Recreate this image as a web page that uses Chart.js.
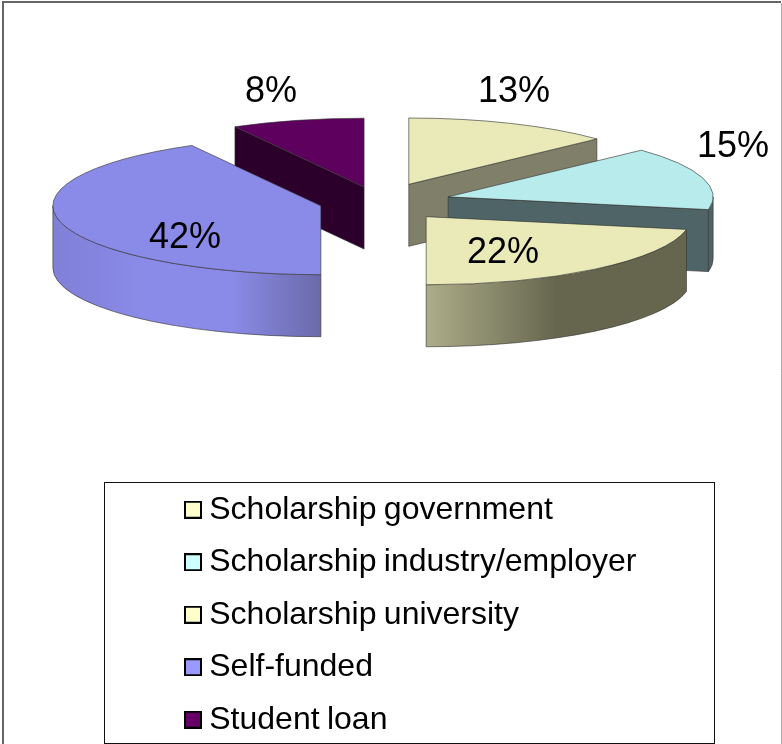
<!DOCTYPE html>
<html>
<head>
<meta charset="utf-8">
<title>Funding</title>
<script src="https://cdn.jsdelivr.net/npm/chart.js@4"></script>
<style>
  html, body { margin: 0; padding: 0; background: #fff; }
  canvas { display: block; filter: blur(0.4px); }
</style>
</head>
<body>
<canvas id="pie" width="782" height="744"></canvas>
<script>
const categories = ['Scholarship government', 'Scholarship industry/employer', 'Scholarship university', 'Self-funded', 'Student loan'];
const shares = [13, 15, 22, 42, 8];

// top faces and legend swatches have different tints in the original
const topColors = ['#EAEAB9', '#B8EBEB', '#EAEAB9', '#8A8AE8', '#5E005E'];
const swatchColors = ['#FFFFCC', '#CCFFFF', '#FFFFCC', '#9999FF', '#660066'];
const cutColors = ['#80806A', '#4E6466', '#66664F', '#6A6AAA', '#2B002B'];
const rimColors = [
    ['#80806A', '#80806A'],
    ['#4E6466', '#4E6466'],
    ['#ADAD8A', '#66664F', '#66664F'],
    ['#8080D8', '#8A8AE8', '#8A8AE8', '#6A6AAA'],
    ['#2B002B', '#2B002B']
];

const explode = [75, 72, 74, 60, 60];
const sliceRadius = [258, 265, 265, 268, 268];
const labelPos = [[514, 102], [733, 157], [503, 263], [185, 248], [271, 102]];

const squash = 0.257;
const depth = 62;

function swatch(color) {
    const c = document.createElement('canvas');
    c.width = 18;
    c.height = 18;
    const g = c.getContext('2d');
    g.fillStyle = '#000';
    g.fillRect(0, 0, 18, 18);
    g.fillStyle = color;
    g.fillRect(2, 2, 14, 14);
    return c;
}

function drawWall(ctx, arc, i) {
    const r = arc.outerRadius;
    const d = depth / squash;
    ctx.lineWidth = 1;
    ctx.strokeStyle = '#333';

    // straight cut faces that turn towards the viewer
    [[arc.endAngle, Math.cos(arc.endAngle) > 0.01], [arc.startAngle, Math.cos(arc.startAngle) < -0.01]].forEach(([a, visible]) => {
        if (!visible) return;
        ctx.beginPath();
        ctx.moveTo(arc.x, arc.y);
        ctx.lineTo(arc.x + r * Math.cos(a), arc.y + r * Math.sin(a));
        ctx.lineTo(arc.x + r * Math.cos(a), arc.y + r * Math.sin(a) + d);
        ctx.lineTo(arc.x, arc.y + d);
        ctx.closePath();
        ctx.fillStyle = cutColors[i];
        ctx.fill();
        ctx.stroke();
    });

    // outer rim, only the front half of the circle shows
    const from = Math.max(arc.startAngle, 0);
    const to = Math.min(arc.endAngle, Math.PI);
    if (to <= from) return;
    const xs = [];
    for (let a = from; a <= to; a += 0.02) xs.push(arc.x + r * Math.cos(a));
    xs.push(arc.x + r * Math.cos(to));
    const grad = ctx.createLinearGradient(Math.min(...xs), 0, Math.max(...xs), 0);
    rimColors[i].forEach((c, k, list) => grad.addColorStop(k / (list.length - 1), c));
    ctx.beginPath();
    ctx.arc(arc.x, arc.y, r, from, to);
    ctx.arc(arc.x, arc.y + d, r, to, from, true);
    ctx.closePath();
    ctx.fillStyle = grad;
    ctx.fill();
    ctx.stroke();
}

const pie3d = {
    id: 'pie3d',
    beforeDraw(chart) {
        chart.ctx.wordSpacing = '-1.5px';
    },
    afterDatasetsUpdate(chart) {
        // pull the slices apart here, the offset option would also grow the radius
        chart.getDatasetMeta(0).data.forEach((arc, i) => {
            const mid = (arc.startAngle + arc.endAngle) / 2;
            arc.x += Math.cos(mid) * explode[i];
            arc.y += Math.sin(mid) * explode[i];
            arc.outerRadius = sliceRadius[i];
        });
    },
    afterLayout(chart) {
        const legend = chart.legend;
        const p = legend.options.labels.padding;
        legend.left = 192.75 - p;
        legend.top = 490 - p;
        legend.right = 715;
        legend.bottom = 760;
    },
    beforeDatasetsDraw(chart) {
        const ctx = chart.ctx;
        const area = chart.chartArea;
        const cy = (area.top + area.bottom) / 2;
        ctx.save();
        ctx.translate(0, cy);
        ctx.scale(1, squash);
        ctx.translate(0, -cy);
        const arcs = chart.getDatasetMeta(0).data.map((arc, i) => ({ arc, i }));
        arcs.sort((a, b) => a.arc.y - b.arc.y).forEach(o => drawWall(ctx, o.arc, o.i));
    },
    afterDatasetsDraw(chart) {
        const ctx = chart.ctx;
        ctx.restore();
        ctx.fillStyle = '#000';
        ctx.font = '36px "Liberation Sans"';
        ctx.textAlign = 'center';
        ctx.textBaseline = 'alphabetic';
        shares.forEach((v, i) => ctx.fillText(v + '%', labelPos[i][0], labelPos[i][1]));
    },
    afterDraw(chart) {
        const ctx = chart.ctx;
        ctx.save();
        // legend box
        ctx.strokeStyle = '#111';
        ctx.lineWidth = 1;
        ctx.strokeRect(104.5, 482.5, 610, 261);
        // screenshot frame
        ctx.strokeStyle = '#666';
        ctx.lineWidth = 2;
        ctx.beginPath();
        ctx.moveTo(3, 744);
        ctx.lineTo(3, 2);
        ctx.lineTo(781, 2);
        ctx.stroke();
        ctx.strokeStyle = '#aaa';
        ctx.lineWidth = 1;
        ctx.beginPath();
        ctx.moveTo(781.5, 3);
        ctx.lineTo(781.5, 744);
        ctx.stroke();
        ctx.restore();
    }
};

new Chart(document.getElementById('pie'), {
    type: 'pie',
    data: {
        labels: categories,
        datasets: [{
            data: shares,
            backgroundColor: topColors,
            borderColor: '#333',
            borderWidth: 1,
            clip: false
        }]
    },
    options: {
        responsive: false,
        animation: false,
        radius: 265,
        layout: { padding: { right: 24, bottom: 340 } },
        plugins: {
            tooltip: { enabled: false },
            legend: {
                position: 'chartArea',
                labels: {
                    color: '#000',
                    font: { family: '"Liberation Sans"', size: 32 },
                    padding: 20.5,
                    usePointStyle: true,
                    pointStyleWidth: 0.5,
                    generateLabels: () => categories.map((text, i) => ({
                        text,
                        index: i,
                        hidden: false,
                        fontColor: '#000',
                        pointStyle: swatch(swatchColors[i])
                    }))
                }
            }
        }
    },
    plugins: [pie3d]
});
</script>
</body>
</html>
